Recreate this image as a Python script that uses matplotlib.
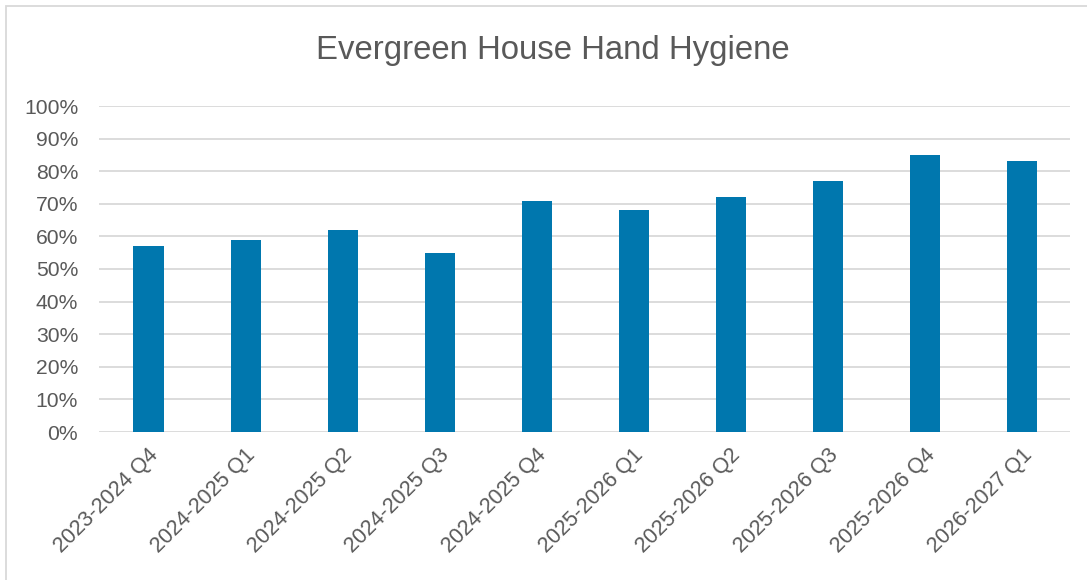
import numpy as np
import matplotlib.pyplot as plt
from matplotlib.patches import Rectangle

quarters = ["2023-2024 Q4", "2024-2025 Q1", "2024-2025 Q2", "2024-2025 Q3",
            "2024-2025 Q4", "2025-2026 Q1", "2025-2026 Q2", "2025-2026 Q3",
            "2025-2026 Q4", "2026-2027 Q1"]
hygiene = [0.57, 0.59, 0.62, 0.55, 0.71, 0.68, 0.72, 0.77, 0.85, 0.83]
yticks = np.arange(0, 1.01, 0.1)

plt.rcParams['font.family'] = ['Liberation Sans', 'DejaVu Sans']
grey = '#595959'

fig = plt.figure(figsize=(10.87, 5.8), dpi=100)
ax = fig.add_axes([99 / 1087, 1 - 432 / 580, 971 / 1087, 326 / 580])

x = np.arange(len(quarters))
ax.bar(x + 0.01, hygiene, width=0.31, color='#0077AE', zorder=3)

ax.set_xlim(-0.5, len(quarters) - 0.5)
ax.set_ylim(0, 1)
ax.set_yticks(yticks)
ax.set_yticklabels([f"{int(round(t * 100))}%" for t in yticks], fontsize=15.2)
ax.set_xticks(x)
ax.set_xticklabels(quarters, rotation=45, ha='right', rotation_mode='anchor',
                   fontsize=15.5)
ax.tick_params(axis='both', length=0, labelcolor=grey)
ax.tick_params(axis='y', pad=15)
ax.tick_params(axis='x', pad=9)
ax.grid(axis='y', color='#D9D9D9', linewidth=1.3, zorder=0)
for s in ax.spines.values():
    s.set_visible(False)

fig.text(553 / 1087, 1 - 50 / 580, "Evergreen House Hand Hygiene",
         ha='center', va='center', fontsize=23.7, color=grey)

# chart border (only top/left visible in the reference)
fig.patches.append(Rectangle((6 / 1087, -0.1), 1.2, 1 - 6 / 580 + 0.1,
                             transform=fig.transFigure, fill=False,
                             edgecolor='#D9D9D9', linewidth=1.3))

fig.savefig("out.png", dpi=100)
